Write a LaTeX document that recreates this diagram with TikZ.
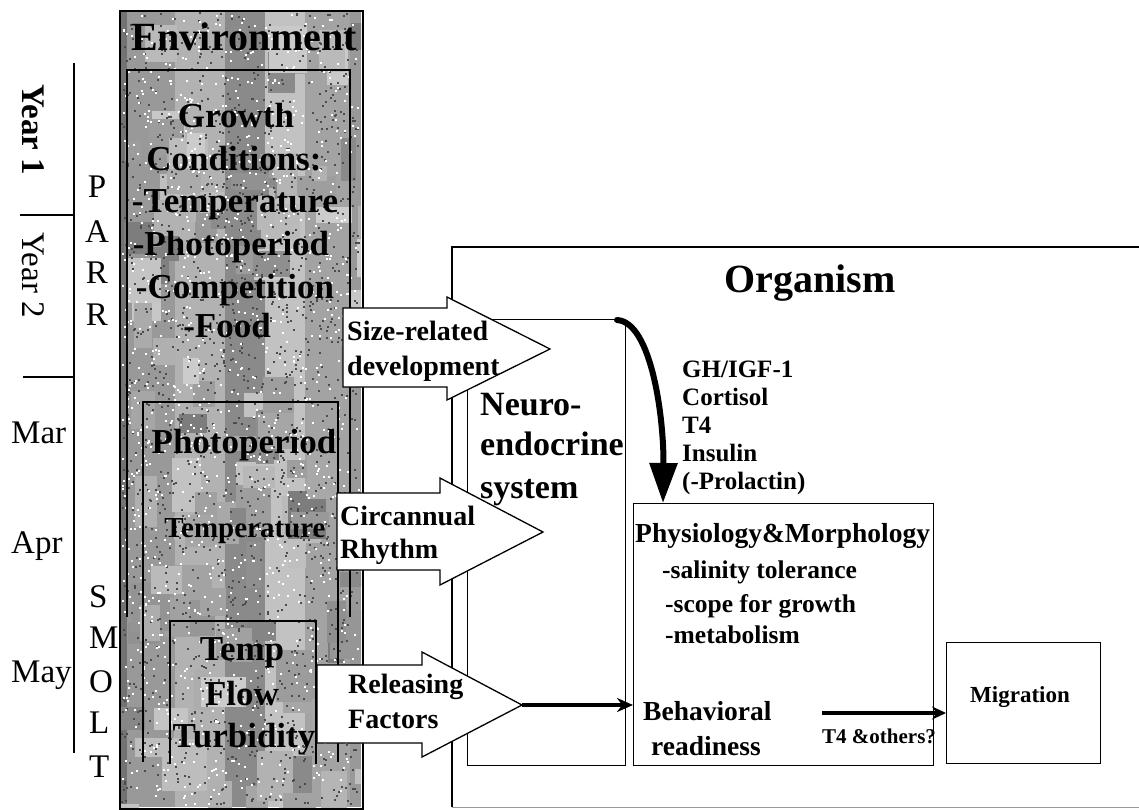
\documentclass[tikz,border=0pt]{standalone}
\usepackage{fontspec}
\setmainfont{Liberation Serif}
\usetikzlibrary{arrows.meta}
\newcommand\fsz[1]{\fontsize{#1}{#1}\selectfont}
\begin{document}
\begin{tikzpicture}[x=1pt,y=-1pt,
  tl/.style={inner sep=0pt, anchor=base west},
  tc/.style={inner sep=0pt, anchor=base},
  box/.style={draw, line width=1.3pt, inner sep=0pt, fill=white},
  frame/.style={line width=1.4pt},
  blockarrow/.style={draw, fill=white, line width=1.3pt, line join=miter},
]
\useasboundingbox (0,0) rectangle (1139,809);
\fill[white] (0,0) rectangle (1139,809);

% ---------- environment column (textured grey) ----------
\begin{scope}
\clip (120,11) rectangle (361,807);
\fill[black!40] (120,11) rectangle (361,807);
\fill[black!30] (175,11) rectangle (225,807);
\fill[black!46] (225,11) rectangle (265,807);
\fill[black!24] (265,11) rectangle (305,807);
\fill[black!36] (305,11) rectangle (350,807);
\fill[black!55] (120,11) rectangle (127,807);
\pgfmathsetseed{11}
\foreach \i in {1,...,110}{
  \pgfmathsetmacro\px{120+241*rnd}
  \pgfmathsetmacro\py{11+796*rnd}
  \pgfmathsetmacro\rw{15+30*rnd}
  \pgfmathsetmacro\rh{15+40*rnd}
  \pgfmathtruncatemacro\sh{20+32*rnd}
  \fill[black!\sh] (\px,\py) rectangle ++(\rw,\rh);
}
\foreach \i in {1,...,1600}{
  \pgfmathsetmacro\px{121+237*rnd}
  \pgfmathsetmacro\py{12+792*rnd}
  \fill[black!70] (\px,\py) rectangle ++(2,2);
}
\foreach \i in {1,...,1300}{
  \pgfmathsetmacro\px{121+237*rnd}
  \pgfmathsetmacro\py{12+792*rnd}
  \fill[white] (\px,\py) rectangle ++(2,2);
}
\end{scope}
\node[draw, line width=1.6pt, minimum width=243pt, minimum height=798pt,
      anchor=north west, inner sep=0pt] (env) at (119,10) {};
% nested boxes (open at the bottom)
\draw[frame] (127,617) -- (127,70) -- (350,70) -- (350,617);
\draw[frame] (143,762) -- (143,402) -- (338,402) -- (338,762);
\draw[frame] (170,764) -- (170,621) -- (316,621) -- (316,764);

% ---------- time line ----------
\draw[line width=1.2pt] (74,63) -- (74,753);
\draw[line width=1.2pt] (20,215) -- (74,215);
\draw[line width=1.2pt] (23,377) -- (74,377);
\node[inner sep=0pt, rotate=-90, font=\fsz{33}\bfseries] (year1) at (33,130) {Year 1};
\node[inner sep=0pt, rotate=-90, font=\fsz{33}] (year2) at (33,275) {Year 2};
\foreach \l/\yy [count=\k] in {P/197,A/242,R/283,R/325}
  \node[tc, font=\fsz{33}] (parr\k) at (97,\yy) {\l};
\foreach \l/\yy [count=\k] in {S/607,M/648,O/692,L/733,T/777}
  \node[tl, font=\fsz{33}] (smolt\k) at (89,\yy) {\l};
\node[tl, font=\fsz{33}] (mar) at (11,443) {Mar};
\node[tl, font=\fsz{33}] (apr) at (11,553) {Apr};
\node[tl, font=\fsz{33}] (may) at (11,682) {May};

% ---------- organism ----------
\draw[line width=1.3pt] (1139,247) -- (452,247) -- (452,807);
\draw[black!40, line width=0.8pt] (452,807) -- (1139,807);
\node[box, minimum width=158pt, minimum height=446pt, anchor=north west] (neuro) at (467,319) {};
\node[box, minimum width=300pt, minimum height=262pt, anchor=north west] (phys) at (633,503) {};
\node[box, minimum width=154pt, minimum height=121pt, anchor=north west] (mig) at (946,642) {};

% ---------- block arrows ----------
\draw[blockarrow] (343,308) -- (447,308) -- (447,297) -- (550,349) -- (447,400) -- (447,387) -- (343,387) -- cycle;
\draw[blockarrow] (337,493) -- (440,493) -- (440,478) -- (543,532) -- (440,585) -- (440,570) -- (337,570) -- cycle;
\draw[blockarrow] (317,665) -- (422,665) -- (422,652) -- (522,705) -- (422,757) -- (422,743) -- (317,743) -- cycle;
\coordinate (reltip) at (522,705);

% ---------- texts: environment ----------
\node[tc, font=\fsz{40}\bfseries] (envt) at (244,50) {Environment};
\node[tc, font=\fsz{35}\bfseries] (g1) at (236,127) {Growth};
\node[tc, font=\fsz{35}\bfseries] (g2) at (234,170) {Conditions:};
\node[tc, font=\fsz{35}\bfseries] (g3) at (235,212) {-Temperature};
\node[tc, font=\fsz{35}\bfseries] (g4) at (231,255) {-Photoperiod};
\node[tc, font=\fsz{35}\bfseries] (g5) at (235,298) {-Competition};
\node[tc, font=\fsz{35}\bfseries] (g6) at (227,337) {-Food};
\node[tc, font=\fsz{35}\bfseries] (ph) at (244,453) {Photoperiod};
\node[tc, font=\fsz{29}\bfseries] (tp) at (245,537) {Temperature};
\node[tc, font=\fsz{35}\bfseries] (t1) at (242,660) {Temp};
\node[tc, font=\fsz{35}\bfseries] (t2) at (242,705) {Flow};
\node[tc, font=\fsz{35}\bfseries] (t3) at (244,747) {Turbidity};

% ---------- texts: arrows ----------
\node[tl, font=\fsz{28}\bfseries] (sz1) at (347,340) {Size-related};
\node[tl, font=\fsz{28}\bfseries] (sz2) at (347,375) {development};
\node[tl, font=\fsz{28}\bfseries] (ci1) at (340,525) {Circannual};
\node[tl, font=\fsz{28}\bfseries] (ci2) at (340,558) {Rhythm};
\node[tl, font=\fsz{28}\bfseries] (re1) at (348,693) {Releasing};
\node[tl, font=\fsz{28}\bfseries] (re2) at (348,728) {Factors};

% ---------- texts: organism ----------
\node[tc, font=\fsz{40}\bfseries] (orgt) at (810,292) {Organism};
\node[tl, font=\fsz{34}\bfseries] (n1) at (480,415) {Neuro-};
\node[tl, font=\fsz{34}\bfseries] (n2) at (480,455) {endocrine};
\node[tl, font=\fsz{34}\bfseries] (n3) at (480,498) {system};
\node[tl, font=\fsz{25}\bfseries] (h1) at (682,377) {GH/IGF-1};
\node[tl, font=\fsz{25}\bfseries] (h2) at (682,405) {Cortisol};
\node[tl, font=\fsz{25}\bfseries] (h3) at (682,433) {T4};
\node[tl, font=\fsz{25}\bfseries] (h4) at (682,461) {Insulin};
\node[tl, font=\fsz{25}\bfseries] (h5) at (682,489) {(-Prolactin)};
\node[tl, font=\fsz{27.5}\bfseries] (p0) at (635,542) {Physiology\&Morphology};
\node[tl, font=\fsz{25.5}\bfseries] (p1) at (662,578) {-salinity tolerance};
\node[tl, font=\fsz{25.5}\bfseries] (p2) at (665,612) {-scope for growth};
\node[tl, font=\fsz{25.5}\bfseries] (p3) at (665,643) {-metabolism};
\node[tl, font=\fsz{27.5}\bfseries] (b1) at (643,720) {Behavioral};
\node[tl, font=\fsz{27.5}\bfseries] (b2) at (651,755) {readiness};
\node[tl, font=\fsz{21}\bfseries] (t4o) at (822,743) {T4 \&others?};
\node[tc, font=\fsz{23}\bfseries] (migt) at (1020,702) {Migration};

% ---------- connectors ----------
\coordinate (nstart) at (617,320);
\draw[line width=6pt, line cap=round, -{Triangle[length=40pt,width=27pt]}]
  (nstart) .. controls (652,322) and (664,420) .. ([xshift=30pt]phys.north west);
\draw[line width=4.5pt, -{Stealth[length=16pt,width=14pt]}] (reltip) -- (reltip -| phys.west);
\coordinate (t4s) at (822,713);
\draw[line width=3.5pt, -{Stealth[length=14pt,width=13pt]}] (t4s) -- (t4s -| mig.west);
\end{tikzpicture}
\end{document}
